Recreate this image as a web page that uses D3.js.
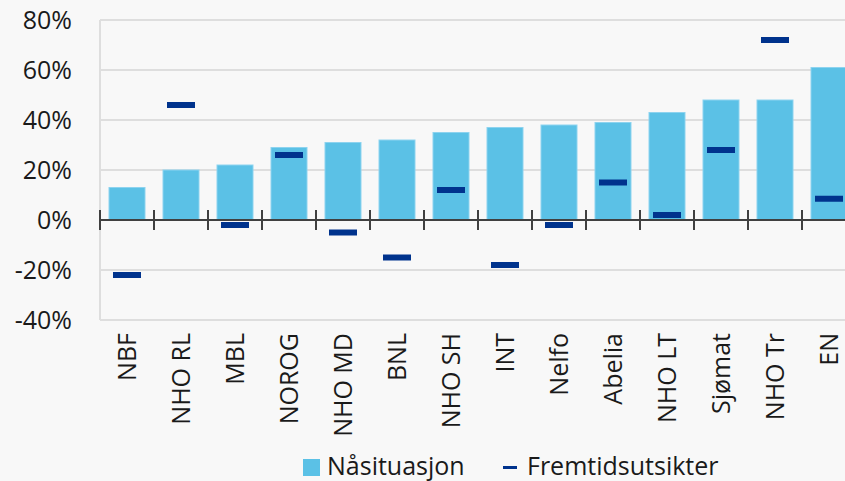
<!DOCTYPE html>
<html>
<head>
<meta charset="utf-8">
<script src="https://cdn.jsdelivr.net/npm/d3@7"></script>
<style>
  body { margin: 0; background: #f8f8f8; }
  svg { display: block; font-family: "Open Sans", "Noto Sans", sans-serif; }
</style>
</head>
<body>
<script>
const categories = ["NBF", "NHO RL", "MBL", "NOROG", "NHO MD", "BNL", "NHO SH", "INT", "Nelfo", "Abelia", "NHO LT", "Sjømat", "NHO Tr", "EN"];
const naasituasjon = [13, 20, 22, 29, 31, 32, 35, 37, 38, 39, 43, 48, 48, 61];
const fremtid = [-22, 46, -2, 26, -5, -15, 12, -18, -2, 15, 2, 28, 72, 8.5];
const yTicks = [-40, -20, 0, 20, 40, 60, 80];

const width = 845;
const height = 481;

const svg = d3.select("body").append("svg")
  .attr("width", width)
  .attr("height", height);

svg.append("rect")
  .attr("width", width)
  .attr("height", height)
  .attr("fill", "#f8f8f8");

// plot area runs past the right edge on purpose (last band is cut)
const x = d3.scaleBand()
  .domain(categories)
  .range([100, 856])
  .paddingInner(1 / 3)
  .paddingOuter(1 / 6);

const y = d3.scaleLinear()
  .domain([-40, 80])
  .range([320, 20]);

// gridlines
svg.append("g")
  .selectAll("line")
  .data(yTicks)
  .enter().append("line")
  .attr("x1", 100)
  .attr("x2", width)
  .attr("y1", (d) => y(d))
  .attr("y2", (d) => y(d))
  .attr("stroke", "#dedede")
  .attr("stroke-width", 2);

svg.append("line")
  .attr("x1", 100)
  .attr("x2", 100)
  .attr("y1", y(80))
  .attr("y2", y(-40))
  .attr("stroke", "#dedede")
  .attr("stroke-width", 2);

// y labels
svg.append("g")
  .selectAll("text")
  .data(yTicks)
  .enter().append("text")
  .attr("x", 72)
  .attr("y", (d) => y(d))
  .attr("dy", "0.36em")
  .attr("text-anchor", "end")
  .style("font-size", "25px")
  .style("fill", "#1a1a1a")
  .text((d) => d + "%");

// bars
svg.append("g")
  .selectAll("rect")
  .data(categories)
  .enter().append("rect")
  .attr("x", (d) => x(d))
  .attr("width", x.bandwidth())
  .attr("y", (d, i) => y(naasituasjon[i]))
  .attr("height", (d, i) => y(0) - y(naasituasjon[i]))
  .attr("fill", "#5bc1e6")
  .attr("stroke", "#8dd3ef")
  .attr("stroke-width", 1);

// zero axis with ticks between categories
const step = x.step();
const tickXs = d3.range(categories.length + 1).map((i) => 100 + i * step);
svg.append("line")
  .attr("x1", 100)
  .attr("x2", width)
  .attr("y1", y(0))
  .attr("y2", y(0))
  .attr("stroke", "#404040")
  .attr("stroke-width", 2);

svg.append("g")
  .selectAll("line")
  .data(tickXs)
  .enter().append("line")
  .attr("x1", (d) => d)
  .attr("x2", (d) => d)
  .attr("y1", y(0) - 10)
  .attr("y2", y(0) + 10)
  .attr("stroke", "#404040")
  .attr("stroke-width", 2);

// dashes
const dashW = 28;
svg.append("g")
  .selectAll("rect")
  .data(categories)
  .enter().append("rect")
  .attr("x", (d) => x(d) + x.bandwidth() / 2 - dashW / 2)
  .attr("y", (d, i) => y(fremtid[i]) - 3)
  .attr("width", dashW)
  .attr("height", 6)
  .attr("fill", "#00338d");

// category labels
svg.append("g")
  .selectAll("text")
  .data(categories)
  .enter().append("text")
  .attr("transform", (d) => `translate(${ x(d) + x.bandwidth() / 2 }, 333) rotate(-90)`)
  .attr("dy", "0.36em")
  .attr("text-anchor", "end")
  .style("font-size", "25px")
  .style("fill", "#1a1a1a")
  .text((d) => d);

// legend
const legend = svg.append("g");
legend.append("rect")
  .attr("x", 303)
  .attr("y", 459)
  .attr("width", 17)
  .attr("height", 17)
  .attr("fill", "#5bc1e6");
legend.append("text")
  .attr("x", 327)
  .attr("y", 475)
  .style("font-size", "25px")
  .style("fill", "#1a1a1a")
  .text("Nåsituasjon");
legend.append("rect")
  .attr("x", 503)
  .attr("y", 466)
  .attr("width", 14)
  .attr("height", 3)
  .attr("fill", "#00338d");
legend.append("text")
  .attr("x", 527)
  .attr("y", 475)
  .style("font-size", "25px")
  .style("fill", "#1a1a1a")
  .text("Fremtidsutsikter");
</script>
</body>
</html>
